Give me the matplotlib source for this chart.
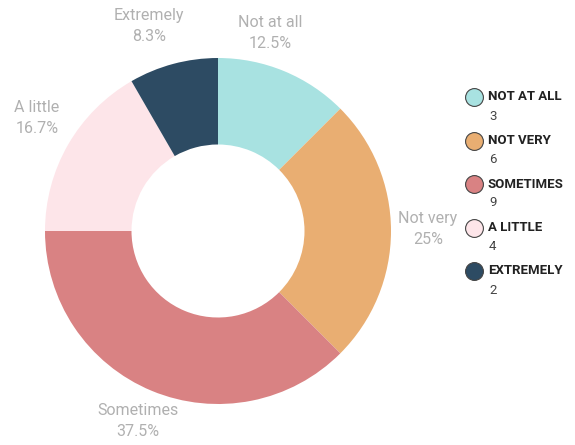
import matplotlib
matplotlib.use("Agg")
import matplotlib.pyplot as plt

categories = ["Not at all", "Not very", "Sometimes", "A little", "Extremely"]
legend_labels = ["NOT AT ALL", "NOT VERY", "SOMETIMES", "A LITTLE", "EXTREMELY"]
counts = [3, 6, 9, 4, 2]
pct_labels = ["12.5%", "25%", "37.5%", "16.7%", "8.3%"]
colors = ["#a8e2e1", "#e9ae72", "#d98283", "#fde5e9", "#2d4b63"]

W, H = 575, 445
fig = plt.figure(figsize=(W / 100, H / 100), dpi=100)
cx, cy, R = 218, 231, 173
ax = fig.add_axes([(cx - R) / W, (H - cy - R) / H, 2 * R / W, 2 * R / H])
wedges, _ = ax.pie(counts, colors=colors, startangle=90, counterclock=False,
                   radius=1, wedgeprops=dict(width=0.5, linewidth=0))
ax.set_xlim(-1, 1)
ax.set_ylim(-1, 1)
ax.set_aspect("equal")
ax.axis("off")

lax = fig.add_axes([0, 0, 1, 1])
lax.set_xlim(0, W)
lax.set_ylim(H, 0)
lax.axis("off")

# slice label positions (pixels, layout only)
label_pos = [(270, 33), (428, 229), (138, 421), (37, 118), (149, 26)]
for (x, y), c, p in zip(label_pos, categories, pct_labels):
    lax.text(x, y, f"{c}\n{p}", ha="center", va="center", fontsize=11.5,
             fontweight="normal", color="#b0b0b0", linespacing=1.45,
             family=["Roboto", "DejaVu Sans"])

y0, dy = 97, 43.5
for i, (lab, n, col) in enumerate(zip(legend_labels, counts, colors)):
    y = y0 + i * dy
    lax.scatter([474], [y], s=165, color=col, edgecolor="#444444", linewidth=0.8, zorder=3)
    lax.text(488, y, lab, ha="left", va="center", fontsize=9.5, fontweight="bold",
             color="#222222", family=["Roboto", "DejaVu Sans"])
    lax.text(489, y + 19, str(n), ha="left", va="center", fontsize=9.5,
             color="#444444", family=["Roboto", "DejaVu Sans"])

fig.savefig("out.png", dpi=100)
